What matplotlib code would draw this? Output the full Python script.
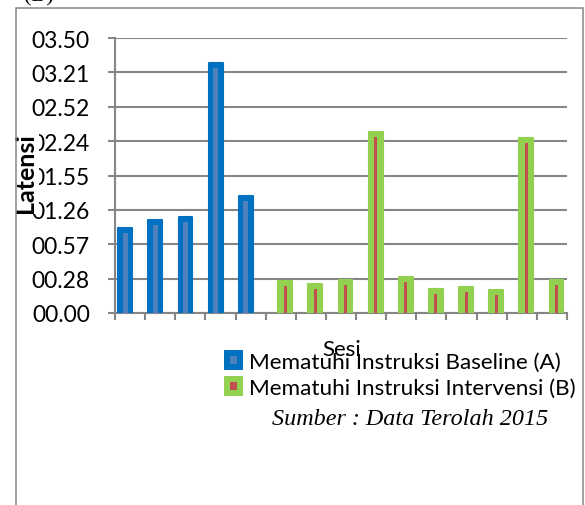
import numpy as np
import matplotlib
matplotlib.use("Agg")
import matplotlib.pyplot as plt
from matplotlib.patches import Rectangle, Patch

# latency per session, in seconds (axis labels are mm.ss)
baseline_sesi = [1, 2, 3, 4, 5]
baseline_latensi = [71, 78, 80, 209, 98]
intervensi_sesi = [6, 7, 8, 9, 10, 11, 12, 13, 14, 15]
intervensi_latensi = [27, 24, 28, 151, 30, 20, 22, 19, 146, 28]

ytick_values = [0, 28.75, 57.5, 86.25, 115, 143.75, 172.5, 201.25, 230]
ytick_labels = ["00.00", "00.28", "00.57", "01.26", "01.55",
                "02.24", "02.52", "03.21", "03.50"]

label_a = "Mematuhi Instruksi Baseline (A)"
label_b = "Mematuhi Instruksi Intervensi (B)"

BLUE = "#0070C0"
BLUE_IN = "#4F81BD"
GREEN = "#92D050"
RED = "#C0504D"
GRID = "#868686"

plt.rcParams["font.family"] = ["Lato", "DejaVu Sans"]

fig = plt.figure(figsize=(5.85, 5.06), dpi=100)
ax = fig.add_axes([115 / 585, 1 - 314 / 506, 452 / 585, 275 / 506])

bar_w = 0.46
inset = 4.2  # stripe stops a few px below the bar top


def draw_series(sesi, vals, offset, outer, inner, stripe_w):
    x = np.array(sesi) + offset
    v = np.array(vals, dtype=float)
    ax.bar(x, v, width=bar_w, color=outer, edgecolor=outer, linewidth=1.5,
           joinstyle="round", zorder=3)
    ax.bar(x, v - inset, width=stripe_w, color=inner, linewidth=0, zorder=4)


draw_series(baseline_sesi, baseline_latensi, -0.16, BLUE, BLUE_IN, 0.16)
draw_series(intervensi_sesi, intervensi_latensi, 0.15, GREEN, RED, 0.10)

ax.set_xlim(0.5, 15.5)
ax.set_ylim(0, 230)
ax.set_yticks(ytick_values)
ax.set_yticklabels(ytick_labels)
ax.set_xticks(np.arange(0.5, 16, 1))
ax.set_xticklabels([])

ax.yaxis.grid(True, color=GRID, linewidth=1.5, zorder=0)
ax.set_axisbelow(True)
for s in ["top", "right"]:
    ax.spines[s].set_visible(False)
for s in ["left", "bottom"]:
    ax.spines[s].set_color(GRID)
    ax.spines[s].set_linewidth(1.5)
ax.tick_params(axis="y", length=5, width=1.5, color=GRID, pad=13,
               labelsize=16.5, labelcolor="black")
ax.tick_params(axis="x", length=5, width=1.5, color=GRID, direction="out")

ax.set_ylabel("Latensi", fontsize=18, fontweight="bold",
              bbox=dict(facecolor="white", edgecolor="none", pad=1.5))
ax.yaxis.set_label_coords(-0.197, 0.513)
ax.yaxis.label.set_va("center")

ax.set_xlabel("Sesi", fontsize=16)
ax.xaxis.set_label_coords(0.502, -0.131)
ax.xaxis.label.set_va("center")

handles = [Patch(facecolor=BLUE_IN, edgecolor=BLUE, linewidth=4.3),
           Patch(facecolor=RED, edgecolor=GREEN, linewidth=4.3)]
fig.legend(handles, [label_a, label_b], loc="center left",
           bbox_to_anchor=(227 / 585, 1 - 376 / 506), frameon=False,
           fontsize=16.2, handlelength=0.58, handleheight=0.58,
           handletextpad=0.4, labelspacing=0.28, borderpad=0,
           borderaxespad=0)

fig.text(410 / 585, 1 - 420 / 506, "Sumber : Data Terolah 2015",
         fontsize=17.4, family=["Liberation Serif"], style="italic",
         ha="center", va="center")

fig.text(24 / 585, 1 - 1 / 506, "(B)", fontsize=16,
         family=["Liberation Serif"], ha="left", va="baseline")

frame = Rectangle((16 / 585, -0.1), (583 - 16) / 585, 0.1 + 1 - 9 / 506,
                  transform=fig.transFigure, fill=False, edgecolor=GRID,
                  linewidth=1.1, clip_on=False)
fig.add_artist(frame)

fig.savefig("out.png", dpi=100)
